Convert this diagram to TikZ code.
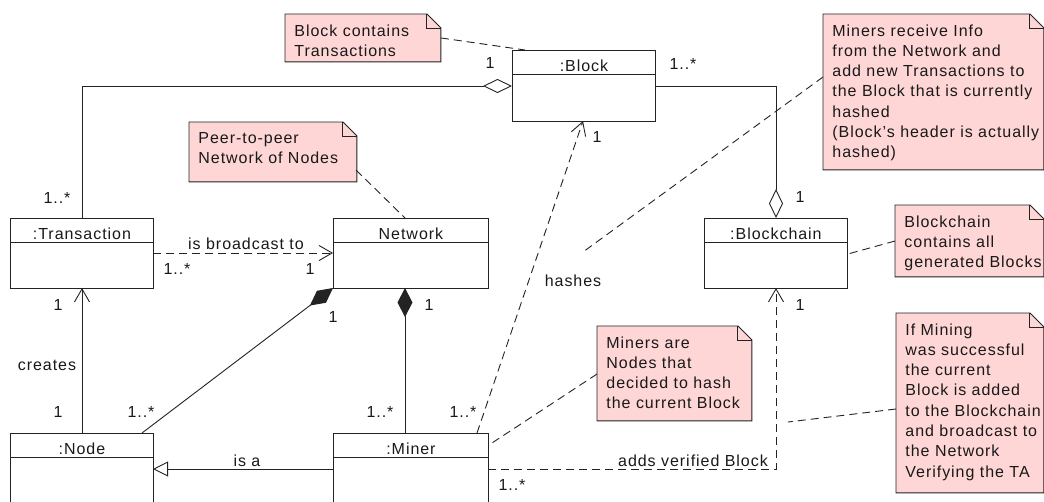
\documentclass[tikz,border=0pt]{standalone}
\usepackage{fontspec}
\setmainfont{Liberation Sans}[LetterSpace=6]
\usetikzlibrary{arrows.meta}
\definecolor{notepink}{RGB}{255,214,214}
\definecolor{lineclr}{RGB}{35,35,35}
\newcommand\umlnote[6]{%
  \node[notearea, minimum width=#4, minimum height=#5] (#1) at (#2,#3) {};
  \draw[notepath] (#1.north west) -- ([xshift=-14]#1.north east) -- ([yshift=-14]#1.north east) -- (#1.south east) -- (#1.south west) -- cycle;
  \draw[lineclr] ([xshift=-14]#1.north east) |- ([yshift=-14]#1.north east);
  \node[notetext] (#1t) at ([xshift=9,yshift=-10]#1.north west) {#6};
}
\newcommand\umlclass[6]{% name, x, y, w, h, title
  \node[cls, minimum width=#4, minimum height=#5] (#1) at (#2,#3) {};
  \draw[lineclr] ([yshift=-24]#1.north west) -- ([yshift=-24]#1.north east);
  \node[anchor=base] (#1t) at ([yshift=-21]#1.north) {#6};
}
\begin{document}
\begin{tikzpicture}[x=1pt,y=-1pt, line width=0.9pt,
  every node/.style={font=\fontsize{16}{20.3}\selectfont, text=black!90},
  cls/.style={draw=lineclr, fill=white, anchor=north west, inner sep=0},
  notearea/.style={anchor=north west, inner sep=0},
  notepath/.style={draw=lineclr, fill=notepink},
  notetext/.style={anchor=north west, inner sep=0, align=left},
  conn/.style={draw=lineclr},
  dep/.style={draw=lineclr, dash pattern=on 8pt off 5pt},
  agg/.style={-{Diamond[length=29pt,width=14pt,fill=white]}},
  comp/.style={-{Diamond[length=29pt,width=15pt,fill=lineclr]}},
  opn/.style={-{Straight Barb[length=13pt,width=15pt]}},
  gen/.style={-{Triangle[length=15pt,width=15pt,fill=white]}},
  lbl/.style={inner sep=0}
]
\useasboundingbox (0,0) rectangle (1044,501);
\clip (0,0) rectangle (1044,501);
\fill[white] (0,0) rectangle (1044,501);

% classes
\umlclass{blk}{512}{50}{143}{71}{:Block}
\umlclass{tx}{10}{218}{143}{70}{:Transaction}
\umlclass{net}{333}{218}{155}{70}{Network}
\umlclass{bc}{704}{218}{143}{70}{:Blockchain}
\umlclass{nd}{10}{433}{143}{90}{:Node}
\umlclass{mn}{333}{433}{155}{90}{:Miner}

% notes
\umlnote{n1}{285}{14}{155}{47}{Block contains\\Transactions}
\umlnote{n2}{189}{122}{167}{59}{Peer-to-peer\\Network of Nodes}
\umlnote{n3}{823}{14}{220}{155}{Miners receive Info\\from the Network and\\add new Transactions to\\the Block that is currently\\hashed\\(Block's header is actually\\hashed)}
\umlnote{n4}{895}{205}{148}{71}{Blockchain\\contains all\\generated Blocks}
\umlnote{n5}{597}{326}{154}{94}{Miners are\\Nodes that\\decided to hash\\the current Block}
\umlnote{n6}{896}{313}{147}{179}{If Mining\\was successful\\the current\\Block is added\\to the Blockchain\\and broadcast to\\the Network\\Verifying the TA}

% connector coordinates
\coordinate (txtop) at (82,218);
\coordinate (txbot) at (82,288);
\coordinate (ndtop) at (82,433);
\coordinate (blkleft) at (512,86);
\coordinate (blkright) at (655,86);
\coordinate (bctop) at (776,218);
\coordinate (bcbot) at (776,288);
\coordinate (blkbot) at (583,121);
\coordinate (mntophash) at (477,433);
\coordinate (mnright) at (488,469);
\coordinate (ndright) at (153,469);
\coordinate (mnleft) at (333,469);
\coordinate (netcorner) at (333,288);
\coordinate (ndtopr) at (142,433);
\coordinate (netbot) at (405,288);
\coordinate (mntop) at (405,433);
\coordinate (txright) at (153,253);
\coordinate (netleft) at (333,253);

% associations
\draw[conn,agg] (txtop) |- (blkleft);
\draw[conn,agg] (blkright) -| (bctop);
\draw[dep,opn] (txright) -- (netleft);
\draw[conn,comp] (ndtopr) -- (netcorner);
\draw[conn,comp] (mntop) -- (netbot);
\draw[conn,opn] (ndtop) -- (txbot);
\draw[conn,gen] (mnleft) -- (ndright);
\draw[dep,opn] (mntophash) -- (blkbot);
\draw[dep,opn] (mnright) -| (bcbot);

% note links
\coordinate (hashref) at (583,252);
\coordinate (addref) at (788,422);
\draw[dep] (n1.east) -- ([xshift=13]blk.north west);
\draw[dep] (356,170) -- (405,218);
\draw[dep] (n3.west |- 0,77) -- (hashref);
\draw[dep] (n4.west |- 0,241) -- (bc.east |- 0,254);
\draw[dep] (n5.west |- 0,374) -- (mn.north east |- 0,445);
\draw[dep] (n6.west |- 0,409) -- (addref);

% labels
\node[lbl] (l1) at (490,63) {1};
\node[lbl] (l2) at (683,64) {1..*};
\node[lbl] (l3) at (800,197) {1};
\node[lbl] (l4) at (57,198) {1..*};
\node[lbl] (l5) at (246,244) {is broadcast to};
\node[lbl] (l6) at (177,269) {1..*};
\node[lbl] (l7) at (310,269) {1};
\node[lbl] (l8) at (58,305) {1};
\node[lbl] (l9) at (47,365) {creates};
\node[lbl] (l10) at (58,412) {1};
\node[lbl] (l11) at (141,412) {1..*};
\node[lbl] (l12) at (333,317) {1};
\node[lbl] (l13) at (247,461) {is a};
\node[lbl] (l14) at (429,305) {1};
\node[lbl] (l15) at (380,412) {1..*};
\node[lbl] (l16) at (463,412) {1..*};
\node[lbl] (l17) at (573,281) {hashes};
\node[lbl] (l18) at (597,137) {1};
\node[lbl] (l19) at (693,461) {adds verified Block};
\node[lbl] (l20) at (512,485) {1..*};
\node[lbl] (l21) at (800,305) {1};
\end{tikzpicture}
\end{document}
